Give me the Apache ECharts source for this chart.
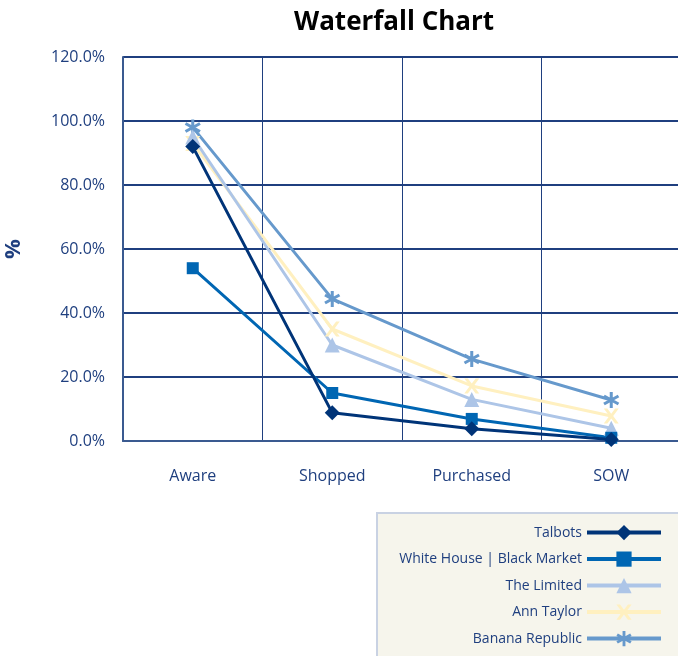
<!DOCTYPE html>
<html>
<head>
<meta charset="utf-8">
<script src="https://cdn.jsdelivr.net/npm/echarts@6/dist/echarts.min.js"></script>
<style>html,body{margin:0;padding:0;background:#fff;}#c{width:678px;height:656px;}</style>
</head>
<body>
<div id="c"></div>
<script>
var categories = ['Aware', 'Shopped', 'Purchased', 'SOW'];
var talbots = [92, 8.8, 3.8, 0.5];
var whbm = [54, 15, 6.9, 1];
var theLimited = [95, 30, 13, 4];
var annTaylor = [93, 35, 17.2, 7.8];
var bananaRepublic = [98, 44.4, 25.6, 12.8];
var yTicks = [0, 20, 40, 60, 80, 100, 120];

var FONT = 'Open Sans';
var NAVY = '#1f3f7f';
var xPath = 'path://M0,0 L2.4,0 L5,3.4 L7.6,0 L10,0 L6.3,5 L10,10 L7.6,10 L5,6.6 L2.4,10 L0,10 L3.7,5 Z';
var starPath = 'path://M4.1,0 L5.9,0 L5.9,10 L4.1,10 Z M0.22,3.28 L1.12,1.72 L9.78,6.72 L8.88,8.28 Z M0.22,6.72 L8.88,1.72 L9.78,3.28 L1.12,8.28 Z';

function mk(name, data, color, symbol, size) {
  return {
    name: name, type: 'line', data: data,
    symbol: symbol, symbolSize: size,
    lineStyle: { color: color, width: 3 },
    itemStyle: { color: color },
    emphasis: { disabled: true },
    animation: false
  };
}

var chart = echarts.init(document.getElementById('c'));
chart.setOption({
  animation: false,
  title: {
    text: 'Waterfall Chart', left: 289, top: 5,
    textStyle: { fontFamily: FONT, fontSize: 26, fontWeight: 'bold', color: '#000' }
  },
  graphic: [{
    type: 'rect', shape: { x: 377, y: 513, width: 310, height: 160 },
    style: { fill: '#f6f5ec', stroke: '#c9d2e3', lineWidth: 2 }, z: 0
  }],
  legend: {
    orient: 'vertical', right: 10, top: 520, align: 'right',
    itemWidth: 74, itemHeight: 19, itemGap: 11.3,
    lineStyle: { width: 4 },
    textStyle: { fontFamily: FONT, fontSize: 14, color: NAVY },
    data: ['Talbots', 'White House | Black Market', 'The Limited', 'Ann Taylor', 'Banana Republic'],
    z: 5
  },
  grid: { left: 123, top: 57, width: 558, height: 384, containLabel: false, outerBoundsMode: 'none' },
  xAxis: {
    type: 'category', data: categories, boundaryGap: true,
    axisLine: { lineStyle: { color: '#3a5a90', width: 2 } },
    axisTick: { show: false },
    axisLabel: { margin: 27, fontFamily: FONT, fontSize: 16, color: NAVY },
    splitLine: { show: true, lineStyle: { color: NAVY, width: 1 } }
  },
  yAxis: {
    type: 'value', min: 0, max: 120, interval: 20,
    name: '%', nameLocation: 'middle', nameRotate: 90, nameGap: 98,
    nameTextStyle: { fontFamily: FONT, fontSize: 22, fontWeight: 'bold', color: NAVY },
    axisLine: { show: true, lineStyle: { color: '#3a5a90', width: 2 } },
    axisTick: { show: false },
    axisLabel: {
      margin: 18, fontFamily: FONT, fontSize: 16, color: NAVY,
      formatter: function (v) { return yTicks.indexOf(v) >= 0 ? v.toFixed(1) + '%' : ''; }
    },
    splitLine: { show: true, lineStyle: { color: NAVY, width: 2 } }
  },
  series: [
    mk('Banana Republic', bananaRepublic, '#6699cc', starPath, 16),
    mk('Ann Taylor', annTaylor, '#fff0c0', xPath, 15),
    mk('The Limited', theLimited, '#adc5e7', 'triangle', 15),
    mk('White House | Black Market', whbm, '#0066b3', 'rect', 12),
    mk('Talbots', talbots, '#003478', 'diamond', 15)
  ]
});
</script>
</body>
</html>
